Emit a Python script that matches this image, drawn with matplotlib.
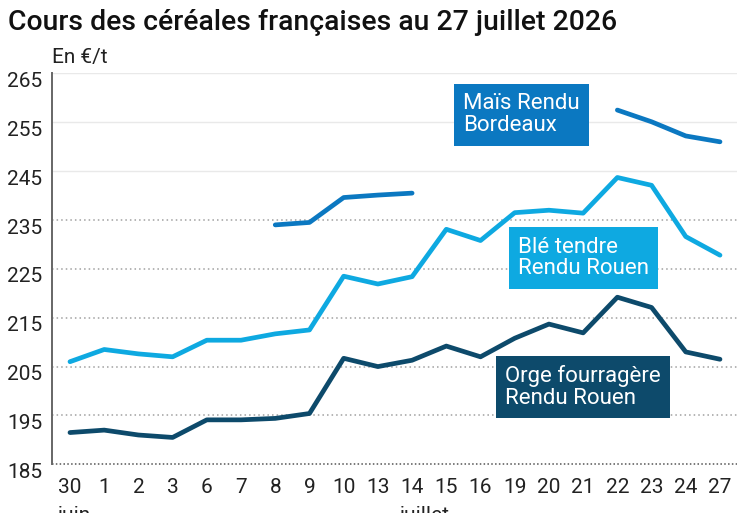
import numpy as np
import matplotlib
matplotlib.use('Agg')
import matplotlib.pyplot as plt
import matplotlib.transforms as mtransforms

plt.rcParams['font.family'] = ['Roboto', 'DejaVu Sans']

# data (EUR/t)
days = ['30', '1', '2', '3', '6', '7', '8', '9', '10', '13', '14', '15', '16',
        '19', '20', '21', '22', '23', '24', '27']
nan = np.nan
mais = [nan, nan, nan, nan, nan, nan, 234.0, 234.5, 239.6, 240.1, 240.5,
        nan, nan, nan, nan, nan, 257.5, 255.1, 252.2, 251.0]
ble = [206.0, 208.5, 207.6, 207.0, 210.4, 210.4, 211.7, 212.5, 223.5, 221.9,
       223.4, 233.1, 230.8, 236.5, 237.0, 236.4, 243.7, 242.1, 231.6, 227.8]
orge = [191.5, 192.0, 191.0, 190.5, 194.1, 194.1, 194.4, 195.4, 206.7, 205.0,
        206.3, 209.2, 207.0, 210.8, 213.7, 211.9, 219.2, 217.1, 208.0, 206.5]
yticks = [185, 195, 205, 215, 225, 235, 245, 255, 265]

c_mais = '#0b78c1'
c_ble = '#0ea9e1'
c_orge = '#0d4a6b'

fig = plt.figure(figsize=(7.47, 5.13), dpi=100)
ax = fig.add_axes([0.0696, 0.0949, 0.917, 0.762])

x = np.arange(len(days))

# grid
for v in [245, 255, 265]:
    ax.axhline(v, color='#e9e9e9', lw=1.0, zorder=0)
for v in [195, 205, 215, 225, 235]:
    ax.axhline(v, color='#a0a0a0', lw=1.1, linestyle=(0, (1, 2)), zorder=0)
ax.axhline(185, color='#555555', lw=1.1, linestyle=(0, (1, 1.5)), zorder=0, clip_on=False)

kw = dict(lw=3.4, solid_capstyle='round', solid_joinstyle='round', zorder=3)
ax.plot(x, mais, color=c_mais, **kw)
ax.plot(x, ble, color=c_ble, **kw)
ax.plot(x, orge, color=c_orge, **kw)

ax.set_xlim(-0.526, 19.497)
ax.set_ylim(185, 265)
ax.set_xticks(x)
ax.set_xticklabels(days)
ax.set_yticks(yticks)
ax.tick_params(axis='x', length=0, pad=10, labelsize=15, labelcolor='#222222')
ax.tick_params(axis='y', length=0, pad=7, labelsize=15, labelcolor='#222222')
offset = mtransforms.ScaledTranslation(0, -6 / 100, fig.dpi_scale_trans)
for lab in ax.get_yticklabels():
    lab.set_transform(lab.get_transform() + offset)

for s in ['top', 'right', 'bottom']:
    ax.spines[s].set_visible(False)
ax.spines['left'].set_color('#666666')
ax.spines['left'].set_linewidth(1.4)

# series labels
def box_label(xi, yv, text, color):
    ax.text(xi, yv, text, color='white', fontsize=16, va='top', ha='left',
            linespacing=1.05, zorder=5,
            bbox=dict(boxstyle='square,pad=0.42', fc=color, ec='none'))

box_label(11.49, 260.9, 'Maïs Rendu\nBordeaux', c_mais)
box_label(13.10, 231.6, 'Blé tendre\nRendu Rouen', c_ble)
box_label(12.72, 205.3, 'Orge fourragère\nRendu Rouen', c_orge)

fig.text(8 / 747, 1 - 30 / 513, 'Cours des céréales françaises au 27 juillet 2026',
         fontsize=20.4, fontweight='medium', color='#111111', va='baseline', ha='left')
fig.text(52 / 747, 1 - 58 / 513, 'En €/t', fontsize=15, color='#222222',
         va='center', ha='left')
fig.text(58 / 747, -8 / 513, 'juin', fontsize=15, color='#222222', va='baseline', ha='left')
fig.text(400 / 747, -8 / 513, 'juillet', fontsize=15, color='#222222', va='baseline', ha='left')

fig.savefig('out.png', dpi=100)
